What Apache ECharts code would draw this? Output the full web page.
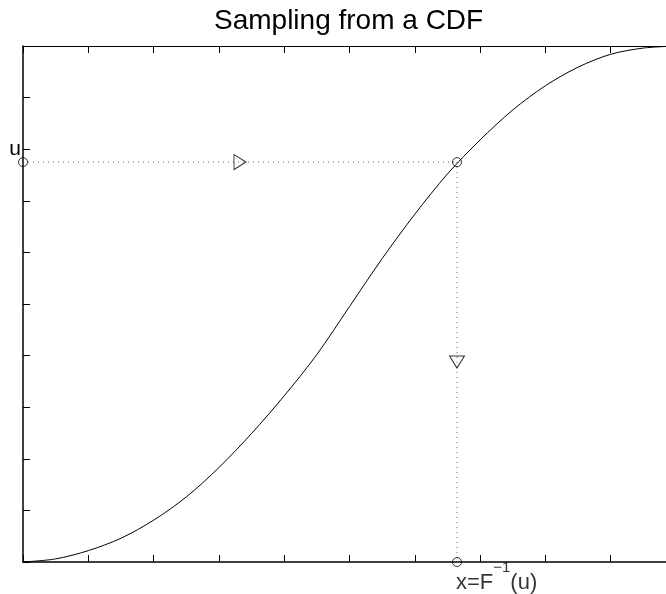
<!DOCTYPE html>
<html>
<head>
<meta charset="utf-8">
<script src="https://cdn.jsdelivr.net/npm/echarts@6/dist/echarts.min.js"></script>
<style>
  html, body { margin: 0; padding: 0; background: #fff; }
  #main { width: 666px; height: 594px; }
</style>
</head>
<body>
<div id="main"></div>
<script>
// CDF curve
var xs = [0, 0.5, 1, 1.5, 2, 2.5, 3, 3.5, 4, 4.5, 5, 5.5, 6, 6.5, 7, 7.5, 8, 8.5, 9, 9.5, 10];
var cdf = [0, 0.006, 0.022, 0.046, 0.081, 0.126, 0.183, 0.249, 0.322, 0.402, 0.495,
           0.588, 0.674, 0.752, 0.818, 0.876, 0.923, 0.959, 0.984, 0.996, 1.0];

// sampled point
var uVal = 0.775;
var xVal = 6.646;

// y tick labels, one per tick 0, 0.1 ... 1
var yTickLabels = ['', '', '', '', '', '', '', '', 'u', '', ''];

var FONT = 'Liberation Sans';

var myChart = echarts.init(document.getElementById('main'));

var curveData = xs.map(function (x, i) { return [x, cdf[i]]; });

var dotted = { color: '#666', width: 1, type: [1, 4] };
var tickStyle = { color: '#000', width: 1 };

var option = {
    animation: false,
    backgroundColor: '#fff',
    title: {
        text: 'Sampling from a CDF',
        left: 214,
        top: 7,
        padding: 0,
        textStyle: { fontFamily: FONT, fontSize: 28, fontWeight: 'normal', color: '#000' }
    },
    grid: {
        left: 23,
        right: -10,
        top: 46,
        bottom: 32,
        outerBoundsMode: 'none',
        containLabel: false
    },
    xAxis: [
        {
            type: 'value', min: 0, max: 10, interval: 1,
            position: 'bottom',
            axisLine: { lineStyle: { color: '#000', width: 1.5 } },
            axisTick: { inside: true, length: 7, lineStyle: tickStyle },
            axisLabel: { show: false },
            splitLine: { show: false }
        },
        {
            type: 'value', min: 0, max: 10, interval: 1,
            position: 'top',
            axisLine: { lineStyle: { color: '#000', width: 1 } },
            axisTick: { inside: true, length: 7, lineStyle: tickStyle },
            axisLabel: { show: false },
            splitLine: { show: false }
        }
    ],
    yAxis: {
        type: 'value', min: 0, max: 1, interval: 0.1,
        axisLine: { show: true, lineStyle: { color: '#000', width: 1.5 } },
        axisTick: { show: true, inside: true, length: 7, lineStyle: tickStyle },
        axisLabel: {
            margin: 2,
            fontFamily: FONT,
            fontSize: 21,
            color: '#000',
            formatter: function (v) { return yTickLabels[Math.round(v * 10)] || ''; }
        },
        splitLine: { show: false }
    },
    series: [
        {
            type: 'line',
            data: curveData,
            showSymbol: false,
            smooth: 0.3,
            lineStyle: { color: '#000', width: 1 },
            z: 3
        },
        {
            type: 'line',
            data: [[0, uVal], [xVal, uVal]],
            symbol: 'none',
            lineStyle: dotted,
            z: 2
        },
        {
            type: 'line',
            data: [[xVal, uVal], [xVal, 0]],
            symbol: 'none',
            lineStyle: dotted,
            z: 2
        },
        {
            type: 'scatter',
            clip: false,
            symbol: 'circle',
            symbolSize: 9,
            itemStyle: { color: 'transparent', borderColor: '#000', borderWidth: 1 },
            data: [
                [0, uVal],
                [xVal, uVal],
                {
                    value: [xVal, 0],
                    label: {
                        show: true,
                        position: 'bottom',
                        align: 'left',
                        distance: 0,
                        offset: [-1, -7],
                        formatter: '{a|x=F}{s|\u22121}{a|(u)}',
                        rich: {
                            a: { fontFamily: FONT, fontSize: 22, color: '#000', lineHeight: 34, verticalAlign: 'bottom' },
                            s: { fontFamily: FONT, fontSize: 15, color: '#000', verticalAlign: 'top' }
                        }
                    }
                }
            ],
            z: 4
        },
        {
            type: 'scatter',
            clip: false,
            symbol: 'triangle',
            symbolSize: [15, 12],
            itemStyle: { color: 'transparent', borderColor: '#000', borderWidth: 1 },
            data: [
                { value: [xVal / 2, uVal], symbolRotate: -90 },
                { value: [xVal, uVal / 2], symbolRotate: 180 }
            ],
            z: 4
        }
    ]
};

myChart.setOption(option);
</script>
</body>
</html>
